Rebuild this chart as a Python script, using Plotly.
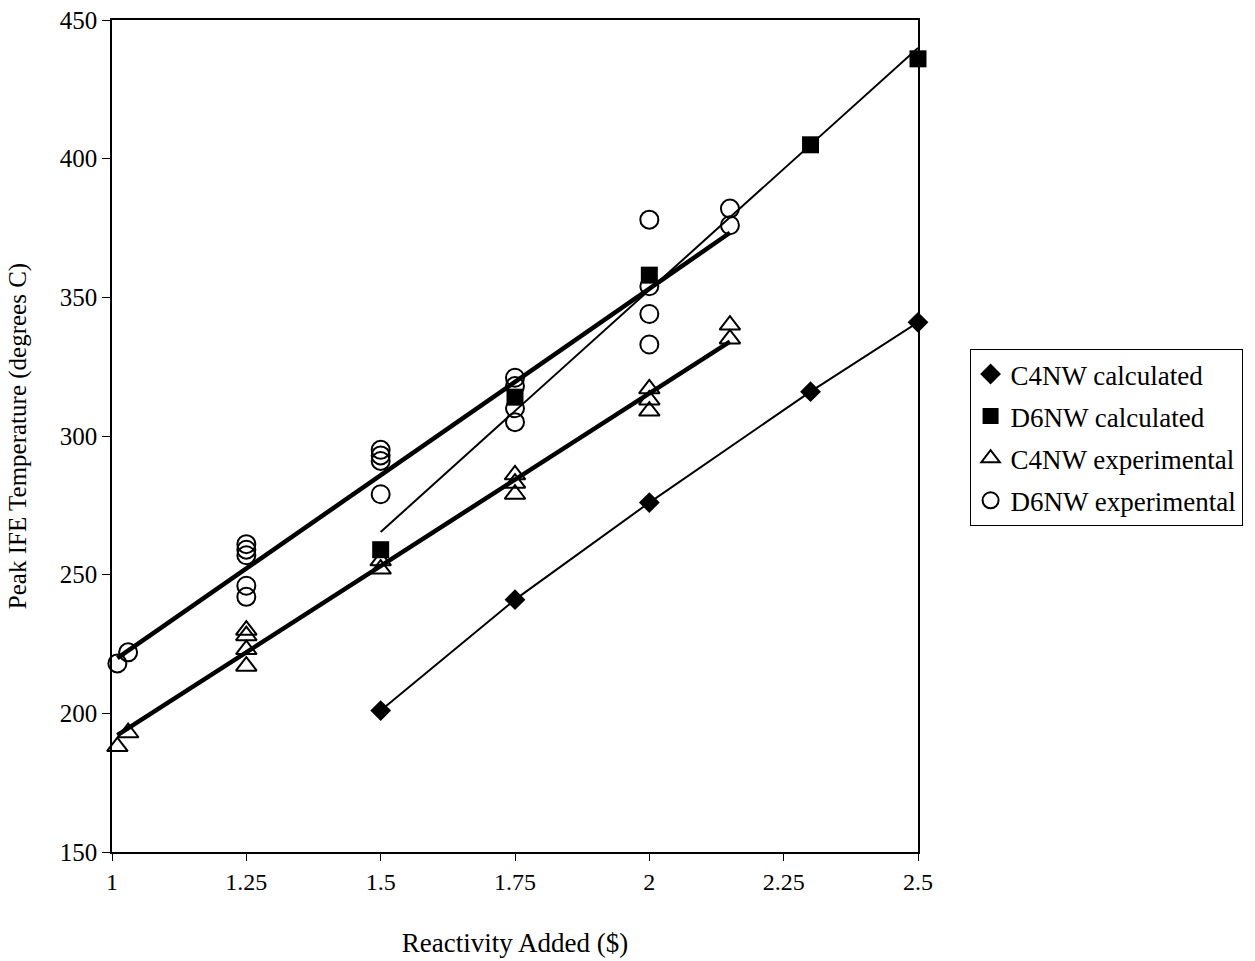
import numpy as np
import plotly.graph_objects as go

# ---- data ----
c4_calc_x = [1.5, 1.75, 2.0, 2.3, 2.5]
c4_calc_y = [201, 241, 276, 316, 341]

d6_calc_x = [1.5, 1.75, 2.0, 2.3, 2.5]
d6_calc_y = [259, 314, 358, 405, 436]

c4_exp_x = [1.01, 1.03, 1.25, 1.25, 1.25, 1.25, 1.5, 1.5, 1.75, 1.75, 1.75,
            2.0, 2.0, 2.0, 2.15, 2.15]
c4_exp_y = [188, 193, 230, 228, 223, 217, 255, 252, 286, 283, 279,
            317, 313, 309, 340, 335]

d6_exp_x = [1.01, 1.03, 1.25, 1.25, 1.25, 1.25, 1.25, 1.5, 1.5, 1.5, 1.5,
            1.75, 1.75, 1.75, 1.75, 2.0, 2.0, 2.0, 2.0, 2.15, 2.15]
d6_exp_y = [218, 222, 261, 259, 257, 246, 242, 295, 293, 291, 279,
            321, 318, 310, 305, 378, 354, 344, 333, 382, 376]

x_ticks = [1, 1.25, 1.5, 1.75, 2, 2.25, 2.5]
y_ticks = [150, 200, 250, 300, 350, 400, 450]

FONT = "Liberation Serif, Times New Roman, serif"


def fit_line(xs, ys):
    k, b = np.polyfit(xs, ys, 1)
    xe = np.array([min(xs), max(xs)])
    return xe, k * xe + b


fig = go.Figure()

# trend lines
for xs, ys, w in [(d6_exp_x, d6_exp_y, 4.5), (c4_exp_x, c4_exp_y, 4.5),
                  (d6_calc_x, d6_calc_y, 2)]:
    lx, ly = fit_line(xs, ys)
    fig.add_trace(go.Scatter(x=lx, y=ly, mode="lines", showlegend=False,
                             line=dict(color="black", width=w), hoverinfo="skip",
                             cliponaxis=False))

# connecting line of C4NW calculated points
fig.add_trace(go.Scatter(x=c4_calc_x, y=c4_calc_y, mode="lines", showlegend=False,
                         line=dict(color="black", width=2), hoverinfo="skip",
                         cliponaxis=False))

fig.add_trace(go.Scatter(
    x=c4_calc_x, y=c4_calc_y, mode="markers", name="C4NW calculated",
    legendgroup="a",
    marker=dict(symbol="diamond", size=16, color="black"), cliponaxis=False))
fig.add_trace(go.Scatter(
    x=d6_calc_x, y=d6_calc_y, mode="markers", name="D6NW calculated",
    legendgroup="b",
    marker=dict(symbol="square", size=17, color="black"), cliponaxis=False))
fig.add_trace(go.Scatter(
    x=c4_exp_x, y=c4_exp_y, mode="markers", name="C4NW experimental",
    legendgroup="c",
    marker=dict(symbol="triangle-up-open", size=18, color="black",
                line=dict(width=2, color="black")), cliponaxis=False))
fig.add_trace(go.Scatter(
    x=d6_exp_x, y=d6_exp_y, mode="markers", name="D6NW experimental",
    legendgroup="d",
    marker=dict(symbol="circle-open", size=18, color="black",
                line=dict(width=2, color="black")), cliponaxis=False))

fig.update_layout(
    width=1255, height=961,
    margin=dict(l=112, r=337, t=20, b=109, autoexpand=False),
    paper_bgcolor="white", plot_bgcolor="white",
    font=dict(family=FONT, size=22, color="black"),
    legend=dict(x=1.064, y=0.6046, xanchor="left", yanchor="top",
                bordercolor="black", borderwidth=1, bgcolor="white",
                traceorder="grouped", tracegroupgap=4, itemwidth=30,
                font=dict(family=FONT, size=27, color="black")),
    xaxis=dict(range=[1, 2.5], tickvals=x_ticks,
               ticktext=[f"{v:g}" for v in x_ticks],
               showgrid=False, zeroline=False, showline=True, mirror=True,
               linecolor="black", linewidth=1.5, ticks="outside", ticklen=7,
               tickcolor="black", tickfont=dict(size=24),
               title=dict(text="Reactivity Added ($)", font=dict(size=27),
                          standoff=40)),
    yaxis=dict(range=[150, 450], tickvals=y_ticks,
               showgrid=False, zeroline=False, showline=True, mirror=True,
               linecolor="black", linewidth=1.5, ticks="outside", ticklen=8,
               tickcolor="black", tickfont=dict(size=25),
               title=dict(text="Peak IFE Temperature (degrees C)",
                          font=dict(size=25), standoff=26)),
)

fig.write_html("out.html")
